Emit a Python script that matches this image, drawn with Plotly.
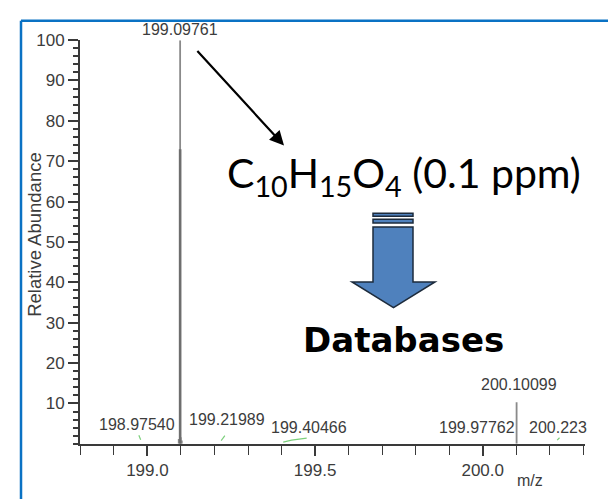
import plotly.graph_objects as go

W, H = 608, 499

# ---- data ----
peak_mz = [199.09761, 200.10099, 199.0935, 199.0995, 199.1025]
peak_int = [100.0, 10.3, 1.2, 1.6, 0.8]
profile_mz = [199.09761]
profile_int = [73.0]

green_segments = [
    ([198.9745, 198.9775, 198.9800], [2.1, 1.6, 1.0]),
    ([199.2200, 199.2260, 199.2310], [0.8, 1.5, 2.0]),
    ([199.4050, 199.4300, 199.4750], [0.4, 0.9, 1.4]),
    ([200.2220, 200.2250, 200.2290], [0.9, 1.2, 1.5]),
]

label_mz = [199.09761, 198.97540, 199.21989, 199.40466, 199.97762, 200.22300, 200.10099]
label_text = ["199.09761", "198.97540", "199.21989", "199.40466", "199.97762", "200.223", "200.10099"]
label_int = [100.0, 2.3, 3.5, 1.4, 1.4, 1.4, 12.0]
label_dx = [0, -2, 6, 26, 2, 0, 2]

ytick_vals = [10, 20, 30, 40, 50, 60, 70, 80, 90, 100]
xtick_vals = [199.0, 199.5, 200.0]
xtick_text = ["199.0", "199.5", "200.0"]

NARROW = "Liberation Sans Narrow, Arial Narrow, Liberation Sans, Arial, sans-serif"
TXT = "#3c3c3c"


def stick_xy(mz, inten):
    xs, ys = [], []
    for m, v in zip(mz, inten):
        xs += [m, m, None]
        ys += [0, v, None]
    return xs, ys


fig = go.Figure()
sx, sy = stick_xy(peak_mz, peak_int)
fig.add_trace(go.Scatter(x=sx, y=sy, mode="lines", line=dict(color="#8a8a8a", width=1.8),
                         hoverinfo="skip", showlegend=False, cliponaxis=False))
px_, py_ = stick_xy(profile_mz, profile_int)
fig.add_trace(go.Scatter(x=px_, y=py_, mode="lines", line=dict(color="#6e6e6e", width=2.6),
                         hoverinfo="skip", showlegend=False))
for gx, gy in green_segments:
    fig.add_trace(go.Scatter(x=gx, y=gy, mode="lines", line=dict(color="#7ccf7c", width=1.2),
                             hoverinfo="skip", showlegend=False))

for m, t, v, dx in zip(label_mz, label_text, label_int, label_dx):
    fig.add_annotation(x=m, y=v, text=t, showarrow=False, xanchor="center", yanchor="bottom",
                       xshift=dx, yshift=0, font=dict(family=NARROW, size=16, color=TXT))


def P(x, y):
    return x / W, 1 - y / H


def path(points):
    s = ""
    for i, (x, y) in enumerate(points):
        a, b = P(x, y)
        s += ("M" if i == 0 else "L") + f"{a:.5f},{b:.5f} "
    return s + "Z"


shapes = []
# blue frame
for (x0, y0, x1, y1) in [(21, 12, 608, 12), (21, 12, 21, 499)]:
    a0, b0 = P(x0, y0)
    a1, b1 = P(x1, y1)
    shapes.append(dict(type="line", xref="paper", yref="paper", x0=a0, y0=b0, x1=a1, y1=b1,
                       line=dict(color="#0a72c4", width=2.5)))

blue = "#4f81bd"
edge = "#1d2b3c"
# block arrow stripes
for (y0, y1) in [(208, 211), (214, 218)]:
    shapes.append(dict(type="path", xref="paper", yref="paper",
                       path=path([(373, y0), (413, y0), (413, y1), (373, y1)]),
                       fillcolor=blue, line=dict(color=edge, width=1.5)))
shapes.append(dict(type="path", xref="paper", yref="paper",
                   path=path([(373, 222), (413, 222), (413, 278), (435, 278), (393.5, 304),
                              (352, 278), (373, 278)]),
                   fillcolor=blue, line=dict(color=edge, width=1.5)))

# black arrow
tip = P(284, 139)
fig.add_annotation(x=tip[0], y=tip[1], xref="paper", yref="paper", ax=-88, ay=-96,
                   axref="pixel", ayref="pixel", text="", showarrow=True,
                   arrowhead=2, arrowsize=1.3, arrowwidth=2.2, arrowcolor="black")

# formula
fx, fy = P(404, 170)
fig.add_annotation(x=fx, y=fy, xref="paper", yref="paper", showarrow=False,
                   text="C<sub>10</sub>H<sub>15</sub>O<sub>4</sub> (0.1 ppm)",
                   xanchor="center", yanchor="middle",
                   font=dict(family="Lato, Open Sans, sans-serif", size=41, color="black"))
dx_, dy_ = P(403, 337)
fig.add_annotation(x=dx_, y=dy_, xref="paper", yref="paper", showarrow=False, text="<b>Databases</b>",
                   xanchor="center", yanchor="middle",
                   font=dict(family="DejaVu Sans", size=34, color="black"))

# axis titles
mx, my = P(530, 480)
fig.add_annotation(x=mx, y=my, xref="paper", yref="paper", showarrow=False, text="m/z",
                   xanchor="center", yanchor="middle", font=dict(family=NARROW, size=16, color=TXT))
rx, ry = P(35, 230)
fig.add_annotation(x=rx, y=ry, xref="paper", yref="paper", showarrow=False, text="Relative Abundance",
                   textangle=-90, xanchor="center", yanchor="middle",
                   font=dict(family=NARROW, size=18.5, color=TXT))

xd0, _ = P(80, 0)
xd1, _ = P(585, 0)
_, yd0 = P(0, 442.8)
_, yd1 = P(0, 31.7)

fig.update_layout(
    width=W, height=H, margin=dict(l=0, r=0, t=0, b=0),
    paper_bgcolor="white", plot_bgcolor="white", shapes=shapes, showlegend=False,
    xaxis=dict(domain=[xd0, xd1], range=[198.799, 200.305], showgrid=False, zeroline=False,
               showline=True, linecolor="#3a3a3a", linewidth=2,
               tickvals=xtick_vals, ticktext=xtick_text, ticks="outside", ticklen=10,
               tickwidth=1.5, tickcolor="#3a3a3a",
               minor=dict(dtick=0.1, tick0=199.0, ticks="outside", ticklen=9, tickwidth=1.2,
                          tickcolor="#3a3a3a", showgrid=False),
               tickfont=dict(family=NARROW, size=17, color=TXT)),
    yaxis=dict(domain=[yd0, yd1], range=[0, 100], showgrid=False, zeroline=False,
               showline=True, linecolor="#3a3a3a", linewidth=2,
               tickvals=ytick_vals, ticks="outside", ticklen=10, tickwidth=2, tickcolor="#3a3a3a",
               minor=dict(dtick=2, tick0=0, ticks="outside", ticklen=5, tickwidth=1.5,
                          tickcolor="#3a3a3a", showgrid=False),
               tickfont=dict(family=NARROW, size=17, color=TXT)),
)

fig.write_html("out.html")
